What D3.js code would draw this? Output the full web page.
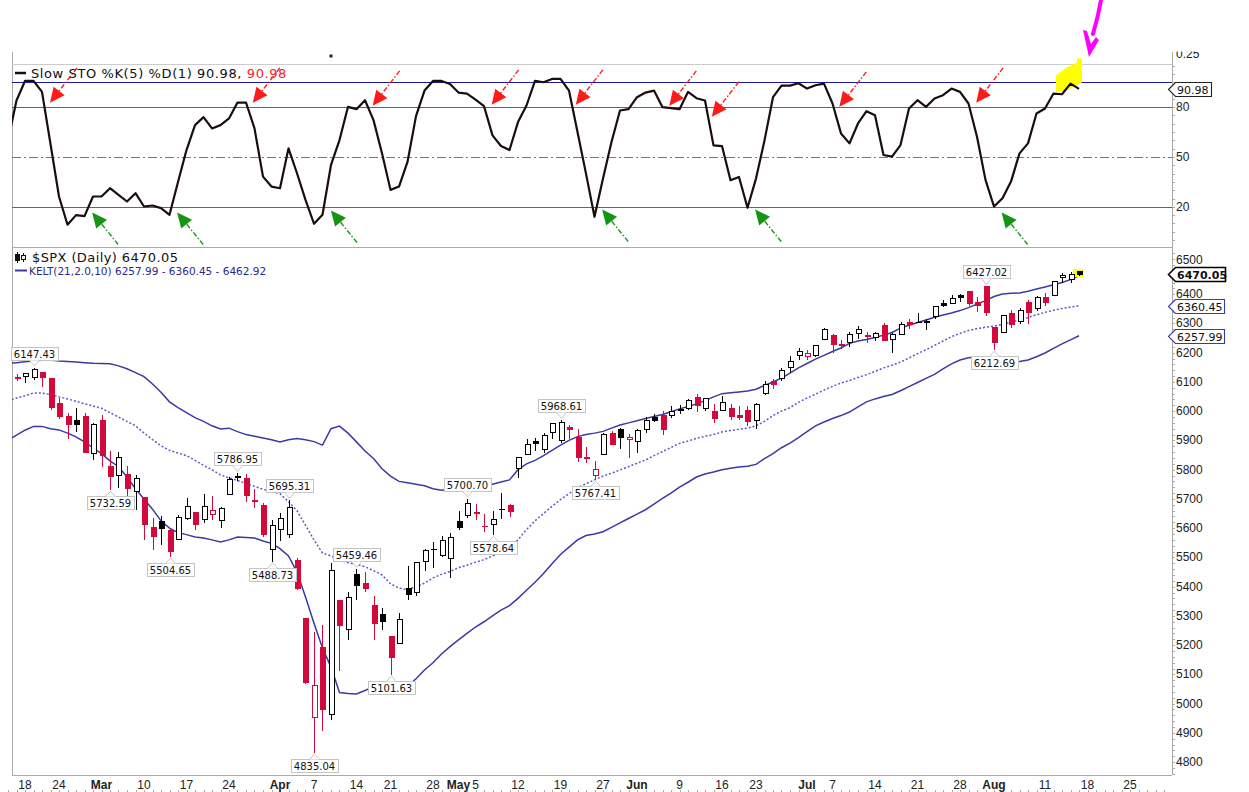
<!DOCTYPE html>
<html>
<head>
<meta charset="utf-8">
<title>$SPX Daily - Keltner Channels and Slow Stochastic</title>
<script src="https://cdn.jsdelivr.net/npm/d3@7/dist/d3.min.js"></script>
<style>
  body { margin: 0; background: #fff; }
  svg { display: block; }
  text { font-family: "DejaVu Sans", Verdana, sans-serif; }
  .axis-text { font-family: "Liberation Sans", Arial, sans-serif; font-size: 12px; fill: #222; }
</style>
</head>
<body>
<svg id="chart" width="1249" height="792"></svg>
<script>
// Trading sessions shown on the chart (2025)
const dates = [
  "02-13","02-14","02-18","02-19","02-20","02-21","02-24","02-25","02-26","02-27","02-28",
  "03-03","03-04","03-05","03-06","03-07","03-10","03-11","03-12","03-13","03-14","03-17","03-18","03-19","03-20","03-21","03-24","03-25","03-26","03-27","03-28","03-31",
  "04-01","04-02","04-03","04-04","04-07","04-08","04-09","04-10","04-11","04-14","04-15","04-16","04-17","04-21","04-22","04-23","04-24","04-25","04-28","04-29","04-30",
  "05-01","05-02","05-05","05-06","05-07","05-08","05-09","05-12","05-13","05-14","05-15","05-16","05-19","05-20","05-21","05-22","05-23","05-27","05-28","05-29","05-30",
  "06-02","06-03","06-04","06-05","06-06","06-09","06-10","06-11","06-12","06-13","06-16","06-17","06-18","06-20","06-23","06-24","06-25","06-26","06-27","06-30",
  "07-01","07-02","07-03","07-07","07-08","07-09","07-10","07-11","07-14","07-15","07-16","07-17","07-18","07-21","07-22","07-23","07-24","07-25","07-28","07-29","07-30","07-31",
  "08-01","08-04","08-05","08-06","08-07","08-08","08-11","08-12","08-13","08-14","08-15"
];
// Empty sessions to the right of the last bar
const futureDates = ["08-18","08-19","08-20","08-21","08-22","08-25","08-26","08-27","08-28","08-29"];

const opens = [
  6060.6,6115.5,6121.6,6117.8,6134.5,6114.1,6026.7,5982.7,5970.9,5981.9,5856.7,
  5968.3,5812.0,5781.4,5785.9,5726.0,5705.4,5603.7,5624.8,5594.5,5563.9,5635.6,5654.5,5632.4,5646.9,5629.5,5718.1,5776.0,5771.7,5695.6,5679.9,5527.9,
  5597.5,5580.8,5492.7,5292.1,4953.8,5193.6,4965.3,5353.2,5255.6,5442.0,5412.0,5335.8,5305.5,5232.9,5207.7,5395.9,5381.4,5489.4,5529.2,5508.9,5499.4,
  5625.1,5645.7,5655.3,5608.0,5614.8,5663.9,5680.0,5807.1,5854.2,5896.7,5869.8,5929.1,5902.9,5944.7,5910.6,5841.3,5781.9,5854.1,5925.5,5939.9,5903.7,
  5896.7,5938.6,5978.9,5985.7,5987.1,6004.6,6009.9,6049.4,6009.9,6000.6,6004.0,6012.2,5987.9,6004.1,5969.7,6061.2,6104.2,6112.1,6150.7,6193.4,
  6187.3,6193.6,6246.5,6259.8,6229.5,6235.3,6266.0,6255.7,6255.2,6295.3,6245.2,6263.9,6304.6,6304.7,6306.6,6326.9,6368.6,6370.0,6397.7,6409.3,6374.3,6427.0,
  6287.3,6271.7,6336.4,6309.3,6374.7,6351.3,6389.7,6397.1,6460.0,6453.4,6478.0
];
const highs = [
  6116.9,6127.5,6129.6,6147.43,6134.5,6114.8,6043.7,5992.7,6009.8,5993.7,5959.4,
  5986.1,5865.1,5860.6,5812.1,5783.0,5705.4,5636.3,5642.2,5597.8,5645.3,5703.5,5654.5,5715.3,5711.2,5670.8,5775.1,5786.95,5783.6,5732.3,5685.9,5627.6,
  5650.6,5695.31,5499.5,5292.1,5246.6,5267.5,5481.3,5353.2,5381.5,5459.46,5449.6,5367.2,5328.3,5232.9,5309.6,5469.7,5484.8,5528.1,5553.7,5572.0,5581.8,
  5658.9,5700.70,5683.4,5649.8,5659.5,5720.1,5683.7,5844.2,5906.6,5906.7,5925.0,5958.4,5968.61,5953.1,5938.4,5878.1,5829.5,5924.3,5930.9,5943.1,5922.1,
  5937.4,5981.4,5990.5,5999.7,6016.9,6021.3,6043.0,6059.4,6045.4,6026.2,6050.8,6023.3,6018.3,6018.2,6028.2,6101.8,6108.5,6146.5,6187.7,6215.1,
  6210.8,6227.6,6284.7,6262.3,6242.7,6269.1,6290.2,6269.9,6270.6,6302.0,6268.3,6304.9,6315.6,6336.1,6316.1,6360.6,6381.3,6395.8,6401.1,6409.3,6391.3,6427.02,
  6288.0,6329.9,6346.9,6352.8,6379.2,6395.2,6403.1,6446.4,6474.0,6475.5,6479.0
];
const lows = [
  6051.0,6107.6,6099.5,6111.2,6084.6,6008.6,5977.8,5908.5,5932.7,5858.8,5837.7,
  5810.9,5732.59,5742.4,5711.6,5666.3,5564.0,5528.4,5546.1,5504.65,5563.9,5631.1,5597.8,5622.2,5632.4,5603.1,5718.1,5764.7,5694.4,5670.9,5572.4,5488.73,
  5558.5,5571.5,5390.8,5069.9,4835.04,4910.4,4948.4,5115.3,5220.8,5358.0,5386.4,5220.8,5255.6,5101.63,5207.7,5356.2,5372.0,5455.9,5468.6,5505.7,5433.2,
  5597.4,5639.8,5631.2,5589.1,5578.64,5635.4,5640.4,5775.9,5853.3,5868.4,5860.5,5907.3,5895.7,5909.3,5830.9,5825.8,5767.41,5854.1,5886.5,5873.8,5843.7,
  5861.4,5929.0,5966.1,5921.2,5978.6,5994.2,6005.8,6002.3,6003.9,5963.2,6004.0,5974.8,5971.9,5952.6,5943.2,6058.1,6080.3,6105.1,6132.4,6178.0,
  6178.0,6188.3,6246.5,6201.0,6217.2,6223.2,6251.3,6237.6,6245.1,6241.8,6201.6,6263.9,6285.5,6303.8,6281.7,6317.5,6360.6,6368.5,6375.9,6363.8,6342.3,6327.6,
  6212.69,6271.7,6289.4,6301.1,6300.9,6346.3,6364.1,6397.1,6442.0,6441.1,6466.0
];
const closes = [
  6115.1,6114.6,6129.6,6144.2,6117.5,6013.1,5983.3,5955.3,5956.1,5861.6,5954.5,
  5849.7,5778.2,5842.6,5738.5,5770.2,5614.6,5572.1,5599.3,5521.5,5638.9,5675.1,5614.7,5675.3,5662.9,5667.6,5767.6,5776.7,5712.2,5693.3,5580.9,5611.9,
  5633.1,5671.0,5396.5,5074.1,5062.3,4982.8,5456.9,5268.1,5363.4,5406.0,5396.6,5275.7,5282.7,5158.2,5287.8,5375.9,5484.8,5525.2,5528.8,5560.8,5569.1,
  5604.1,5686.7,5650.4,5606.9,5631.3,5664.0,5659.9,5844.2,5886.6,5892.6,5916.9,5958.4,5963.6,5940.5,5844.6,5842.0,5802.8,5921.5,5888.6,5912.2,5911.7,
  5935.9,5970.4,5970.8,5939.3,6000.4,6005.9,6038.8,6022.2,6045.3,5977.0,6033.1,5982.7,5980.9,5967.8,6025.2,6092.2,6092.1,6141.0,6173.1,6205.0,
  6198.0,6227.4,6279.4,6230.0,6225.5,6263.3,6280.5,6259.8,6268.6,6243.8,6263.7,6297.4,6296.8,6305.6,6309.6,6358.9,6363.4,6388.6,6389.8,6370.9,6362.9,6339.4,
  6238.0,6329.9,6299.2,6345.1,6340.0,6389.5,6373.5,6445.8,6466.6,6468.5,6470.05
];

// Slow STO %K(5)
const stoK = [
  60,84,95.8,95.8,89.2,57.8,26.2,9.2,15,14.4,26.2,
  26.2,31.2,27.2,23.2,28.2,20.2,20.8,19.2,15.2,35,54.2,69.2,74,67.2,69.2,73.2,82.8,82.8,67.2,38.2,32.2,
  31.2,55.2,40.2,24.2,9.8,15.2,45.2,60.2,80.2,78.8,84.2,72.2,52.2,30.2,32.2,47,74.6,90,95.8,95.8,94,
  88.8,88.2,84.6,80.6,63,56.6,54.2,71,81,95.8,95,97,97,90,65,40,14,37,59,78,78.8,
  86,88.8,90,80,79.4,78.8,89.2,85.4,84,57,56.6,36,38,19.4,37,60,86,93,93,94.4,
  91.2,93.2,94.2,82.2,64.2,58.2,70.2,77.6,75.2,51.2,50.2,57.2,79.2,84.2,80.2,85.2,87.2,91.2,89.2,82.2,62.2,36.2,
  20.2,25.2,35.2,52.2,58.2,76.2,79.2,88.2,87.8,94.2,90.98
];

// KELT(21,2.0,10) bands
const keltUpper = [
  6163,6166,6169,6172,6174,6175,6172,6170,6168,6166,
  6164,6163,6162,6155,6145,6132,6118,6093,6065,6032,
  6012,5995,5978,5965,5950,5939,5942,5930,5920,5914,
  5908,5902,5895,5902,5907,5902,5896,5884,5940,5949,
  5925,5895,5864,5838,5803,5778,5760,5755,5750,5745,
  5735,5730,5732,5735,5738,5741,5745,5750,5758,5765,
  5800,5820,5832,5848,5866,5884,5900,5913,5920,5925,
  5931,5942,5953,5960,5967,5975,5982,5989,5998,6008,
  6016,6025,6036,6049,6060,6063,6066,6069,6075,6088,
  6100,6113,6130,6148,6163,6178,6191,6204,6216,6232,
  6240,6245,6252,6260,6269,6284,6294,6303,6312,6321,
  6329,6336,6344,6354,6366,6378,6392,6401,6403,6404,
  6410,6418,6425,6432,6440,6450,6462.92
];
const keltMiddle = [
  6035,6045,6053,6062,6062,6057,6049,6042,6034,6025,
  6018,6010,5995,5980,5965,5950,5925,5903,5882,5866,
  5857,5848,5832,5815,5800,5782,5772,5763,5753,5743,
  5733,5725,5718,5690,5660,5610,5560,5515,5505,5490,
  5482,5476,5468,5455,5440,5410,5395,5390,5400,5412,
  5430,5442,5452,5465,5473,5484,5492,5505,5515,5536,
  5560,5595,5625,5650,5675,5698,5718,5738,5752,5765,
  5778,5788,5799,5810,5822,5833,5848,5862,5876,5890,
  5898,5907,5914,5920,5929,5934,5938,5942,5950,5965,
  5985,6000,6012,6030,6045,6058,6072,6085,6096,6105,
  6115,6125,6136,6148,6157,6168,6182,6197,6210,6225,
  6240,6255,6266,6276,6282,6287,6291,6297,6305,6312,
  6320,6330,6338,6345,6351,6356,6360.45
];
const keltLower = [
  5900,5918,5935,5948,5948,5940,5936,5925,5912,5895,
  5875,5855,5830,5810,5775,5735,5700,5665,5625,5600,
  5585,5578,5570,5566,5560,5553,5560,5570,5568,5566,
  5556,5548,5530,5505,5450,5365,5275,5190,5125,5038,
  5035,5033,5045,5058,5070,5060,5048,5060,5085,5115,
  5140,5170,5195,5218,5240,5262,5280,5300,5320,5335,
  5360,5388,5415,5445,5478,5510,5535,5560,5575,5580,
  5588,5603,5618,5633,5648,5663,5682,5702,5720,5740,
  5757,5775,5785,5792,5800,5805,5809,5812,5818,5838,
  5855,5875,5891,5910,5930,5950,5963,5975,5985,5997,
  6015,6032,6042,6050,6057,6070,6084,6098,6112,6126,
  6145,6162,6175,6183,6185,6184,6182,6175,6168,6170,
  6175,6186,6199,6215,6230,6244,6257.99
];

// X axis labels
const xTickDates = ["02-18","02-24","03-03","03-10","03-17","03-24","04-01","04-07","04-14","04-21","04-28","05-01","05-05","05-12","05-19","05-27",
  "06-02","06-09","06-16","06-23","07-01","07-07","07-14","07-21","07-28","08-01","08-11","08-18","08-25"];
const xTickText = ["18","24","Mar","10","17","24","Apr","7","14","21","28","May","5","12","19","27",
  "Jun","9","16","23","Jul","7","14","21","28","Aug","11","18","25"];
const monthNames = ["Mar","Apr","May","Jun","Jul","Aug"];

const priceTicks = d3.range(4800, 6501, 100);
const stoTicks = [80, 50, 20];

// Swing high / low price labels
const labelDates = ["02-19","03-25","04-02","04-14","05-02","05-19","07-31","03-04","03-13","03-31","04-07","04-21","05-07","05-23","08-01"];
const labelValues = [6147.43,5786.95,5695.31,5459.46,5700.70,5968.61,6427.02,5732.59,5504.65,5488.73,4835.04,5101.63,5578.64,5767.41,6212.69];
const labelSides = ["high","high","high","high","high","high","high","low","low","low","low","low","low","low","low"];

// Hand-drawn signal arrows (session position, %K level of the tip)
const sellArrowAt = [4.94, 28.8, 42.9, 56.9, 66.8, 77.8, 82.8, 97.8, 113.9];
const sellArrowLevel = [82.6, 82.6, 80.8, 81.4, 81.4, 80.8, 74.2, 80.2, 82.6];
const buyArrowAt = [9.9, 19.9, 38.0, 69.9, 87.9, 116.9];
const buyArrowLevel = [16.6, 16.6, 17.8, 18.4, 18.4, 16.6];
const stoMarkLevel = 95;

// Layout
const plotLeft = 12, plotRight = 1172;
const frameTop = 52, stoTop = 64, stoBottom = 247;
const priceTop = 248, priceBottom = 775;
const red = "#d20a3c", navy = "#3a3aa4";

const sessions = dates.concat(futureDates);
const xIndex = d3.scaleLinear().domain([0, sessions.length - 1]).range([8, 8 + 8.5 * (sessions.length - 1)]);
const x = d => xIndex(sessions.indexOf(d));
const yS = d3.scaleLinear().domain([-4.2, 106]).range([stoBottom, stoTop]);
const yP = d3.scaleLinear().domain([4756, 6558]).range([priceBottom, priceTop]);

const svg = d3.select("#chart");
const defs = svg.append("defs");
defs.append("clipPath").attr("id", "clip-sto").append("rect")
  .attr("x", plotLeft).attr("y", stoTop).attr("width", plotRight - plotLeft).attr("height", stoBottom - stoTop);
defs.append("clipPath").attr("id", "clip-price").append("rect")
  .attr("x", plotLeft).attr("y", priceTop).attr("width", plotRight - plotLeft).attr("height", priceBottom - priceTop);
defs.append("clipPath").attr("id", "clip-top").append("rect")
  .attr("x", 0).attr("y", 51.5).attr("width", 1249).attr("height", 800);

// Frame
const frame = svg.append("g").attr("stroke", "#aaa").attr("shape-rendering", "crispEdges");
frame.append("line").attr("x1", plotLeft + 0.5).attr("x2", plotLeft + 0.5).attr("y1", frameTop).attr("y2", priceBottom);
frame.append("line").attr("x1", plotRight + 0.5).attr("x2", plotRight + 0.5).attr("y1", frameTop).attr("y2", priceBottom);
frame.append("line").attr("x1", plotLeft).attr("x2", plotRight).attr("y1", stoTop + 0.5).attr("y2", stoTop + 0.5).attr("stroke", "#ccc");
frame.append("line").attr("x1", plotLeft).attr("x2", plotRight).attr("y1", stoBottom + 0.5).attr("y2", stoBottom + 0.5);
frame.append("line").attr("x1", plotLeft).attr("x2", plotRight).attr("y1", priceBottom + 0.5).attr("y2", priceBottom + 0.5);

// ---------- Stochastic panel ----------
const stoG = svg.append("g");
const stoGrid = stoG.append("g").attr("shape-rendering", "crispEdges");
[80, 20].forEach(v => {
  stoGrid.append("line").attr("x1", plotLeft).attr("x2", plotRight)
    .attr("y1", Math.round(yS(v)) + 0.5).attr("y2", Math.round(yS(v)) + 0.5).attr("stroke", "#666");
});
stoGrid.append("line").attr("x1", plotLeft).attr("x2", plotRight)
  .attr("y1", Math.round(yS(50)) + 0.5).attr("y2", Math.round(yS(50)) + 0.5)
  .attr("stroke", "#777").attr("stroke-dasharray", "9,3,2,3");
stoGrid.append("line").attr("x1", plotLeft).attr("x2", plotRight)
  .attr("y1", Math.round(yS(stoMarkLevel)) + 0.5).attr("y2", Math.round(yS(stoMarkLevel)) + 0.5)
  .attr("stroke", "#1a1a9a").attr("stroke-width", 1.2);

// yellow highlighter over the last %K points
const lastX = x(dates[dates.length - 1]);
const markY = yS(stoMarkLevel);
const hl = [[-23, -7], [-16, -12], [-12, -15], [-7, -17], [-2, -20], [-2, -24], [3, -24], [3, 0], [-4, 4], [-13, 8], [-23, 10]];
stoG.append("path")
  .attr("d", "M" + hl.map(p => [lastX + p[0], markY + p[1]].join(",")).join("L") + "Z")
  .attr("fill", "#ffff00");

stoG.append("path")
  .datum(stoK)
  .attr("clip-path", "url(#clip-sto)")
  .attr("fill", "none")
  .attr("stroke", "#1a0d0d")
  .attr("stroke-width", 2.2)
  .attr("stroke-linejoin", "round")
  .attr("d", d3.line().x((d, k) => xIndex(k)).y(d => yS(d)));

// signal arrows
function drawArrow(g, tipX, tipY, tailX, tailY, color) {
  const ang = Math.atan2(tipY - tailY, tipX - tailX);
  const headLen = 15, headHalf = 7;
  const bx = tipX - headLen * Math.cos(ang), by = tipY - headLen * Math.sin(ang);
  g.append("line")
    .attr("x1", tailX).attr("y1", tailY).attr("x2", bx).attr("y2", by)
    .attr("stroke", color).attr("stroke-width", 1.4).attr("stroke-dasharray", "5,2,1.5,2");
  g.append("path")
    .attr("d", `M${tipX},${tipY}L${bx + headHalf * Math.sin(ang)},${by - headHalf * Math.cos(ang)}L${bx - headHalf * Math.sin(ang)},${by + headHalf * Math.cos(ang)}Z`)
    .attr("fill", color);
}
const arrowG = svg.append("g");
sellArrowAt.forEach((p, k) => {
  const tx = xIndex(p), ty = yS(sellArrowLevel[k]);
  drawArrow(arrowG, tx, ty, tx + 27, ty - 35, "#ff1a1a");
});
buyArrowAt.forEach((p, k) => {
  const tx = xIndex(p), ty = yS(buyArrowLevel[k]);
  drawArrow(arrowG, tx, ty, tx + 26, ty + 32, "#149614");
});

// small marker above the panel
svg.append("rect").attr("x", 329.5).attr("y", 54.5).attr("width", 3).attr("height", 3).attr("fill", "#222");

// legend
svg.append("line").attr("x1", 15).attr("x2", 26).attr("y1", 73).attr("y2", 73).attr("stroke", "#111").attr("stroke-width", 2.5);
const stoLegend = svg.append("text").attr("x", 31).attr("y", 78).attr("font-size", 13).attr("letter-spacing", 0.6).attr("fill", "#111");
stoLegend.append("tspan").text(`Slow STO %K(5) %D(1) ${stoK[stoK.length - 1].toFixed(2)}, `);
stoLegend.append("tspan").attr("fill", "#ff2020").text(stoK[stoK.length - 1].toFixed(2));

// magenta hand-drawn arrow at the top right
const magX = lastX + 10;
svg.append("path").attr("d", `M${magX + 12},0 C${magX + 10},12 ${magX + 7},24 ${magX + 4},34`)
  .attr("fill", "none").attr("stroke", "#ff00ff").attr("stroke-width", 4).attr("stroke-linecap", "round");
svg.append("path")
  .attr("d", `M${magX - 6},30 L${magX - 2},31 L${magX + 2},44 L${magX + 7},37 L${magX + 10},40 L${magX},57 Z`)
  .attr("fill", "#ff00ff");

// ---------- Price panel ----------
const priceG = svg.append("g").attr("clip-path", "url(#clip-price)");

const kelt = d3.line().x((d, k) => xIndex(k)).y(d => yP(d));
priceG.append("path").datum(keltUpper).attr("d", kelt).attr("fill", "none").attr("stroke", navy).attr("stroke-width", 1.5);
priceG.append("path").datum(keltLower).attr("d", kelt).attr("fill", "none").attr("stroke", navy).attr("stroke-width", 1.5);
priceG.append("path").datum(keltMiddle).attr("d", kelt).attr("fill", "none").attr("stroke", "#5a5ac8")
  .attr("stroke-width", 1.5).attr("stroke-dasharray", "2,2");

// highlight behind the last bar
priceG.append("rect").attr("x", lastX - 6).attr("y", yP(highs[highs.length - 1]) - 2)
  .attr("width", 10).attr("height", 8).attr("fill", "#ffff00");

const candles = dates.map((d, k) => ({
  date: d, o: opens[k], h: highs[k], l: lows[k], c: closes[k],
  prev: k ? closes[k - 1] : opens[k]
}));

const candleG = priceG.append("g").attr("shape-rendering", "crispEdges");
candles.forEach(d => {
  const cx = Math.round(x(d.date)) + 0.5;
  const color = d.c >= d.prev ? "#000" : red;
  const hollow = d.c >= d.o;
  candleG.append("line").attr("x1", cx).attr("x2", cx)
    .attr("y1", Math.round(yP(d.h))).attr("y2", Math.round(yP(d.l)) + 1)
    .attr("stroke", color);
  const top = Math.round(yP(Math.max(d.o, d.c))) + 0.5;
  const bot = Math.round(yP(Math.min(d.o, d.c))) + 0.5;
  if (bot - top < 1) {
    candleG.append("line").attr("x1", cx - 3).attr("x2", cx + 3).attr("y1", top).attr("y2", top).attr("stroke", color);
  } else {
    candleG.append("rect").attr("x", cx - 2.5).attr("width", 5)
      .attr("y", top).attr("height", bot - top)
      .attr("fill", hollow ? "#fff" : color).attr("stroke", color);
  }
});

// swing labels
const labelLayer = svg.append("g");
labelDates.forEach((d, k) => {
  const px = Math.round(x(d)) + 0.5;
  const py = yP(labelValues[k]);
  const isHigh = labelSides[k] === "high";
  const boxTop = isHigh ? Math.round(py) - 20.5 : Math.round(py) + 7.5;
  const g = labelLayer.append("g");
  const rect = g.append("rect");
  const ptr = g.append("path");
  const t = g.append("text").attr("x", px).attr("y", boxTop + 10.5)
    .attr("text-anchor", "middle").attr("font-size", 10).attr("fill", "#111")
    .text(labelValues[k].toFixed(2));
  const w = Math.round(t.node().getComputedTextLength()) + 6;
  rect.attr("x", Math.round(px - w / 2) + 0.5).attr("y", boxTop).attr("width", w).attr("height", 13)
    .attr("fill", "#fff").attr("stroke", "#c4c4c4");
  const edge = isHigh ? boxTop + 13 : boxTop;
  const tip = isHigh ? py - 2 : py + 2;
  ptr.attr("d", `M${px - 5},${edge}L${px},${tip}L${px + 5},${edge}`)
    .attr("fill", "#fff").attr("stroke", "#c4c4c4");
});

// price legend
const icon = svg.append("g").attr("fill", "#111").attr("stroke", "#111").attr("shape-rendering", "crispEdges");
icon.append("line").attr("x1", 17.5).attr("x2", 17.5).attr("y1", 252).attr("y2", 263);
icon.append("rect").attr("x", 15.5).attr("y", 254.5).attr("width", 4).attr("height", 6);
icon.append("line").attr("x1", 23.5).attr("x2", 23.5).attr("y1", 253).attr("y2", 262);
icon.append("rect").attr("x", 21.5).attr("y", 255.5).attr("width", 4).attr("height", 4).attr("fill", "#fff");
svg.append("text").attr("x", 32).attr("y", 262).attr("font-size", 13).attr("letter-spacing", 0.4).attr("fill", "#111")
  .text(`$SPX (Daily) ${closes[closes.length - 1].toFixed(2)}`);
svg.append("line").attr("x1", 15).attr("x2", 27).attr("y1", 270.5).attr("y2", 270.5).attr("stroke", navy).attr("stroke-width", 2);
svg.append("text").attr("x", 29).attr("y", 275).attr("font-size", 10.5).attr("fill", "#2a2a8c")
  .text(`KELT(21,2.0,10) ${keltLower[keltLower.length - 1].toFixed(2)} - ${keltMiddle[keltMiddle.length - 1].toFixed(2)} - ${keltUpper[keltUpper.length - 1].toFixed(2)}`);

// ---------- Right axis ----------
const axisG = svg.append("g").attr("shape-rendering", "crispEdges");
d3.range(0, 106, 5).forEach(v => {
  const y = Math.round(yS(v)) + 0.5;
  axisG.append("line").attr("x1", plotRight).attr("x2", plotRight + 3).attr("y1", y).attr("y2", y).attr("stroke", "#aaa");
});
d3.range(4760, 6541, 20).forEach(v => {
  const y = Math.round(yP(v)) + 0.5;
  axisG.append("line").attr("x1", plotRight).attr("x2", plotRight + 3).attr("y1", y).attr("y2", y).attr("stroke", "#aaa");
});
stoTicks.forEach(v => {
  svg.append("text").attr("class", "axis-text").attr("x", 1176).attr("y", yS(v) + 4).text(v);
});
svg.append("text").attr("class", "axis-text").attr("x", 1176).attr("y", 58).attr("clip-path", "url(#clip-top)").text("0.25");
// price tick labels; a label that would run into the close tag sits just above it
const closeTagTop = Math.round(yP(closes[closes.length - 1])) - 7;
priceTicks.forEach(v => {
  let ty = yP(v) + 4;
  if (Math.abs(yP(v) - (closeTagTop + 7)) < 14) ty = Math.min(ty, closeTagTop - 3.5);
  svg.append("text").attr("class", "axis-text").attr("x", 1176).attr("y", ty).text(v);
});

// value tags
function valueTag(y, text, stroke, bold, right) {
  const g = svg.append("g");
  const yy = Math.round(y) + 0.5;
  g.append("path")
    .attr("d", `M${plotRight - 3.5},${yy}L${plotRight + 3.5},${yy - 7}L${right},${yy - 7}L${right},${yy + 7}L${plotRight + 3.5},${yy + 7}Z`)
    .attr("fill", "#fff").attr("stroke", stroke).attr("stroke-width", bold ? 1.6 : 1.1);
  g.append("text").attr("x", plotRight + 5).attr("y", yy + 4)
    .attr("font-size", 11).attr("font-weight", bold ? "bold" : "normal").attr("fill", "#111").text(text);
}
valueTag(yS(stoK[stoK.length - 1]), stoK[stoK.length - 1].toFixed(2), "#222", false, 1211.5);
valueTag(yP(closes[closes.length - 1]), closes[closes.length - 1].toFixed(2), "#000", true, 1225.5);
valueTag(yP(keltMiddle[keltMiddle.length - 1]), keltMiddle[keltMiddle.length - 1].toFixed(2), navy, false, 1224.5);
valueTag(yP(keltLower[keltLower.length - 1]), keltLower[keltLower.length - 1].toFixed(2), navy, false, 1224.5);

// ---------- Date axis ----------
const dateG = svg.append("g");
sessions.forEach(d => {
  const px = Math.round(x(d)) + 0.5;
  dateG.append("line").attr("x1", px).attr("x2", px).attr("y1", 790).attr("y2", 792)
    .attr("stroke", "#aaa").attr("shape-rendering", "crispEdges");
});
xTickDates.forEach((d, k) => {
  dateG.append("text").attr("class", "axis-text")
    .attr("x", x(d)).attr("y", 789).attr("text-anchor", "middle")
    .attr("font-weight", monthNames.includes(xTickText[k]) ? "bold" : "normal")
    .text(xTickText[k]);
});
</script>
</body>
</html>
